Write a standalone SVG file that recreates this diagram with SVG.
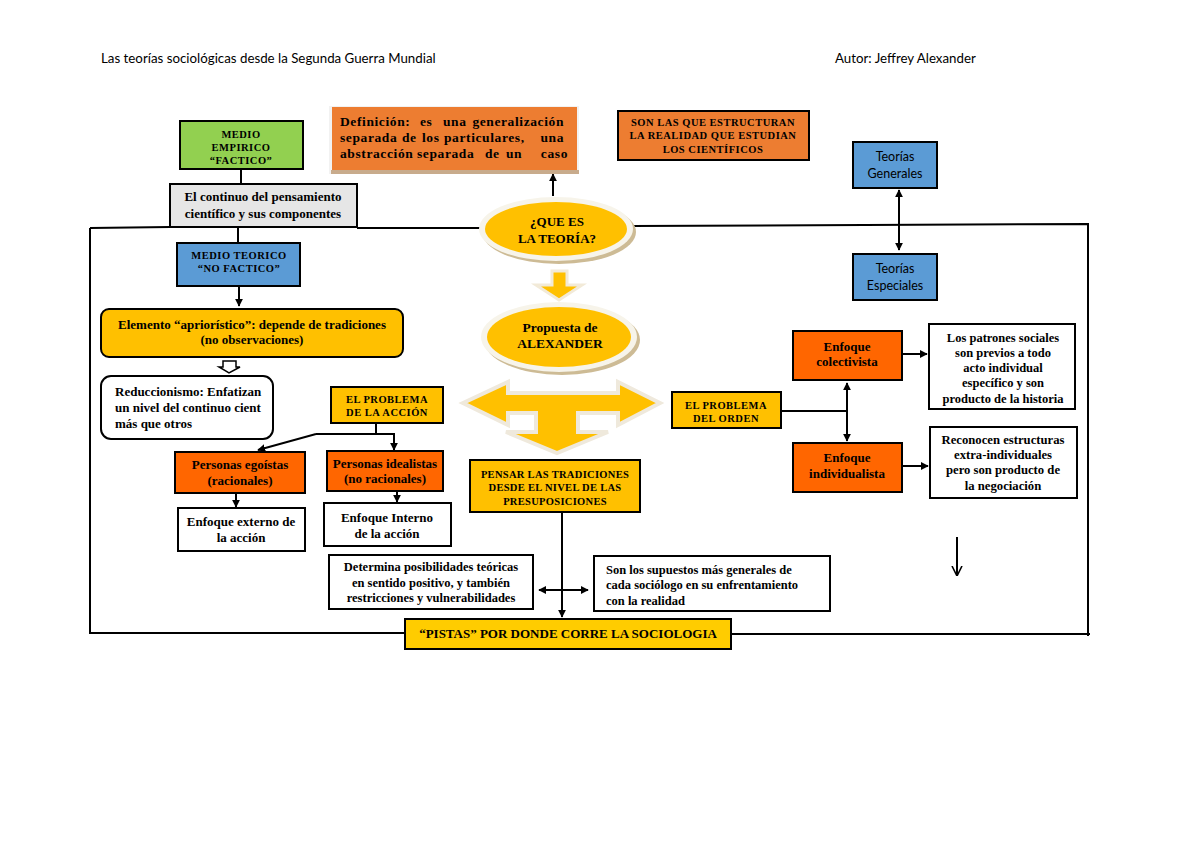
<svg xmlns="http://www.w3.org/2000/svg" width="1200" height="849" viewBox="0 0 1200 849">
<defs>
<marker id="ah" viewBox="0 0 10 10" refX="9" refY="5" markerWidth="4" markerHeight="4" orient="auto-start-reverse"><path d="M0,0 L10,5 L0,10 z" fill="#000"/></marker>
<marker id="ao" viewBox="0 0 10 10" refX="9" refY="5" markerWidth="5" markerHeight="6" orient="auto"><path d="M0,0 L10,5 L0,10" fill="none" stroke="#000" stroke-width="1.6"/></marker>
<style>
.b{stroke:#000;stroke-width:2}
.t{font-family:"Liberation Serif",serif;font-weight:bold;font-size:13px;fill:#000}
.c{font-family:"Liberation Serif",serif;font-weight:bold;font-size:10.5px;letter-spacing:0.5px;fill:#000}
.s{font-family:Lato,"Liberation Sans",sans-serif;font-size:13.3px;fill:#000}
.ln{stroke:#000;stroke-width:2;fill:none}
.y{fill:#ffc000}.o{fill:#ff6600}.or{fill:#ed7d31}.bl{fill:#5b9bd5}.w{fill:#fff}
</style>
</defs>
<rect width="1200" height="849" fill="#fff"/>
<text class="s" x="101" y="63">Las teorías sociológicas desde la Segunda Guerra Mundial</text>
<text class="s" x="835" y="63">Autor: Jeffrey Alexander</text>

<g id="connectors">
<path class="ln" d="M90,228 L170,227 M357,228 L482,228 M632,226 L1088,224 L1088,636 M90,228 L90,633 L405,633 M731,634 L1090,634"/>
<path class="ln" d="M241,169 V184 M238,227 V243"/>
<path class="ln" d="M239,286 V306" marker-end="url(#ah)"/>
<path class="ln" d="M553,196 V174" marker-end="url(#ah)"/>
<path class="ln" d="M899,250 V190" marker-end="url(#ah)" marker-start="url(#ah)"/>
<path class="ln" d="M376,423 V434 H316"/>
<path class="ln" d="M316,434 L258,450" marker-end="url(#ah)"/>
<path class="ln" d="M376,434 H394 V450" marker-end="url(#ah)"/>
<path class="ln" d="M236,493 V507" marker-end="url(#ah)"/>
<path class="ln" d="M397,491 V502" marker-end="url(#ah)"/>
<path class="ln" d="M781,411 H847"/>
<path class="ln" d="M847,441 V383" marker-end="url(#ah)" marker-start="url(#ah)"/>
<path class="ln" d="M902,354 H927" marker-end="url(#ah)"/>
<path class="ln" d="M902,466 H928" marker-end="url(#ah)"/>
<path class="ln" d="M562,512 V617" marker-end="url(#ah)"/>
<path class="ln" d="M539,590 H588" marker-end="url(#ah)" marker-start="url(#ah)"/>
<path class="ln" d="M957,537 V575" marker-end="url(#ao)"/>
<path d="M223,361 H236 V367 H240 L229,373 L219,367 H223 Z" fill="#fff" stroke="#000" stroke-width="1.5"/>
</g>

<g id="medio-empirico"><rect class="b" x="180" y="121" width="123" height="48" fill="#92d050"/>
<text class="c" text-anchor="middle"><tspan x="241" y="138">MEDIO</tspan><tspan x="241" y="151">EMPIRICO</tspan><tspan x="241" y="164">“FACTICO”</tspan></text></g>

<g id="continuo"><rect class="b" x="170" y="184" width="187" height="43" fill="#e6e6e6"/>
<text class="t" text-anchor="middle"><tspan x="263" y="201">El continuo del pensamiento</tspan><tspan x="263" y="218">científico y sus componentes</tspan></text></g>

<g id="medio-teorico"><rect class="b bl" x="177" y="243" width="123" height="43"/>
<text class="c" text-anchor="middle"><tspan x="239" y="259">MEDIO TEORICO</tspan><tspan x="239" y="272">“NO FACTICO”</tspan></text></g>

<g id="elemento"><rect class="b y" x="101" y="309" width="302" height="48" rx="8"/>
<text class="t" text-anchor="middle"><tspan x="252" y="329">Elemento “apriorístico”: depende de tradiciones</tspan><tspan x="252" y="344">(no observaciones)</tspan></text></g>

<g id="reduccionismo"><rect class="b w" x="101" y="376" width="172" height="63" rx="10"/>
<text class="t"><tspan x="115" y="396">Reduccionismo: Enfatizan</tspan><tspan x="115" y="412">un nivel del continuo cient</tspan><tspan x="115" y="428">más que otros</tspan></text></g>

<g id="problema-accion"><rect class="b y" x="331" y="387" width="112" height="36"/>
<text class="c" text-anchor="middle"><tspan x="387" y="403">EL PROBLEMA</tspan><tspan x="387" y="416">DE LA ACCIÓN</tspan></text></g>

<g id="egoistas"><rect class="b o" x="175" y="452" width="130" height="41"/>
<text class="t" text-anchor="middle"><tspan x="240" y="469">Personas egoístas</tspan><tspan x="240" y="485">(racionales)</tspan></text></g>

<g id="idealistas"><rect class="b o" x="327" y="451" width="116" height="40"/>
<text class="t" text-anchor="middle"><tspan x="385" y="468">Personas idealistas</tspan><tspan x="385" y="483">(no racionales)</tspan></text></g>

<g id="externo"><rect class="b w" x="178" y="508" width="127" height="43"/>
<text class="t" text-anchor="middle"><tspan x="241" y="526">Enfoque externo de</tspan><tspan x="241" y="542">la acción</tspan></text></g>

<g id="interno"><rect class="b w" x="324" y="503" width="127" height="43"/>
<text class="t" text-anchor="middle"><tspan x="387" y="522">Enfoque Interno</tspan><tspan x="387" y="538">de la acción</tspan></text></g>

<g id="definicion"><rect x="329" y="106" width="250" height="68" fill="#f2f2f2"/><rect x="331" y="170" width="248" height="4" fill="#c8ab8c"/>
<rect x="332" y="107" width="245" height="63" class="or"/>
<text class="t" style="font-size:13.5px;letter-spacing:0.6px">
<tspan x="340" y="126">Definición:</tspan><tspan x="420" y="126">es</tspan><tspan x="443" y="126">una</tspan><tspan x="568" y="126" text-anchor="end">generalización</tspan>
<tspan x="340" y="142">separada</tspan><tspan x="402" y="142">de</tspan><tspan x="422" y="142">los</tspan><tspan x="444" y="142">particulares,</tspan><tspan x="568" y="142" text-anchor="end">una</tspan>
<tspan x="340" y="158">abstracción</tspan><tspan x="417" y="158">separada</tspan><tspan x="485" y="158">de</tspan><tspan x="506" y="158">un</tspan><tspan x="568" y="158" text-anchor="end">caso</tspan>
</text></g>

<g id="son-las"><rect class="b or" x="618" y="111" width="191" height="49"/>
<text class="c" text-anchor="middle"><tspan x="713" y="126">SON LAS QUE ESTRUCTURAN</tspan><tspan x="713" y="139">LA REALIDAD QUE ESTUDIAN</tspan><tspan x="713" y="153">LOS CIENTÍFICOS</tspan></text></g>

<g id="que-es"><ellipse cx="559" cy="232" rx="77" ry="32" fill="#cdbb95"/><ellipse cx="556" cy="229" rx="77" ry="32" fill="#f7f4ea"/><ellipse cx="556" cy="229" rx="71" ry="27" class="y"/>
<text class="t" style="font-size:13px" text-anchor="middle"><tspan x="557" y="226">¿QUE ES</tspan><tspan x="557" y="243">LA TEORÍA?</tspan></text></g>

<g id="flecha-bloque"><path d="M552,271 H567 V285 H582 L559,300 L536,285 H552 Z" fill="#ffc000" stroke="#f2ead8" stroke-width="3"/></g>

<g id="propuesta"><ellipse cx="562" cy="340" rx="78" ry="35" fill="#cdbb95"/><ellipse cx="559" cy="337" rx="78" ry="35" fill="#f7f4ea"/><ellipse cx="559" cy="337" rx="72" ry="30" class="y"/>
<text class="t" style="font-size:13.5px" text-anchor="middle"><tspan x="560" y="332">Propuesta de</tspan><tspan x="560" y="348">ALEXANDER</tspan></text></g>

<g id="flecha-t"><path d="M463,403 L508,382 V393 H618 V382 L660,403 L618,425 V413 H578 V432 H608 L557,453 L506,432 H536 V413 H508 V425 Z" fill="#ffc000" stroke="#efe9dc" stroke-width="4" stroke-linejoin="miter"/></g>

<g id="pensar"><rect class="b y" x="470" y="460" width="170" height="52"/>
<text class="c" style="letter-spacing:0.3px" text-anchor="middle"><tspan x="555" y="478">PENSAR LAS TRADICIONES</tspan><tspan x="555" y="491">DESDE EL NIVEL DE LAS</tspan><tspan x="555" y="505">PRESUPOSICIONES</tspan></text></g>

<g id="determina"><rect class="b w" x="329" y="555" width="204" height="54"/>
<text class="t" style="font-size:12.5px" text-anchor="middle"><tspan x="431" y="571">Determina posibilidades teóricas</tspan><tspan x="431" y="587">en sentido positivo, y también</tspan><tspan x="431" y="602">restricciones y vulnerabilidades</tspan></text></g>

<g id="supuestos"><rect class="b w" x="594" y="556" width="236" height="55"/>
<text class="t" style="font-size:12.5px"><tspan x="606" y="574">Son los supuestos más generales de</tspan><tspan x="606" y="589">cada sociólogo en su enfrentamiento</tspan><tspan x="606" y="605">con la realidad</tspan></text></g>

<g id="pistas"><rect class="b" x="405" y="619" width="326" height="30" fill="#ffcc00"/>
<text class="t" text-anchor="middle" x="568" y="638">“PISTAS” POR DONDE CORRE LA SOCIOLOGIA</text></g>

<g id="teorias-generales"><rect class="b bl" x="853" y="142" width="84" height="46"/>
<text class="s" style="font-size:12.5px" text-anchor="middle"><tspan x="895" y="161">Teorías</tspan><tspan x="895" y="178">Generales</tspan></text></g>

<g id="teorias-especiales"><rect class="b bl" x="853" y="254" width="84" height="46"/>
<text class="s" style="font-size:12.5px" text-anchor="middle"><tspan x="895" y="273">Teorías</tspan><tspan x="895" y="290">Especiales</tspan></text></g>

<g id="problema-orden"><rect class="b y" x="672" y="392" width="109" height="36"/>
<text class="c" text-anchor="middle"><tspan x="726" y="409">EL PROBLEMA</tspan><tspan x="726" y="422">DEL ORDEN</tspan></text></g>

<g id="colectivista"><rect class="b o" x="793" y="331" width="109" height="49"/>
<text class="t" text-anchor="middle"><tspan x="847" y="351">Enfoque</tspan><tspan x="847" y="366">colectivista</tspan></text></g>

<g id="individualista"><rect class="b o" x="793" y="443" width="109" height="49"/>
<text class="t" text-anchor="middle"><tspan x="847" y="462">Enfoque</tspan><tspan x="847" y="478">individualista</tspan></text></g>

<g id="patrones"><rect class="b w" x="929" y="324" width="146" height="85"/>
<text class="t" style="font-size:12.5px" text-anchor="middle"><tspan x="1003" y="342">Los patrones sociales</tspan><tspan x="1003" y="357">son previos a todo</tspan><tspan x="1003" y="372">acto individual</tspan><tspan x="1003" y="387">específico y son</tspan><tspan x="1003" y="403">producto de la historia</tspan></text></g>

<g id="reconocen"><rect class="b w" x="930" y="427" width="147" height="71"/>
<text class="t" style="font-size:12.7px" text-anchor="middle"><tspan x="1003" y="444">Reconocen estructuras</tspan><tspan x="1003" y="459">extra-individuales</tspan><tspan x="1003" y="474">pero son producto de</tspan><tspan x="1003" y="490">la negociación</tspan></text></g>
</svg>
